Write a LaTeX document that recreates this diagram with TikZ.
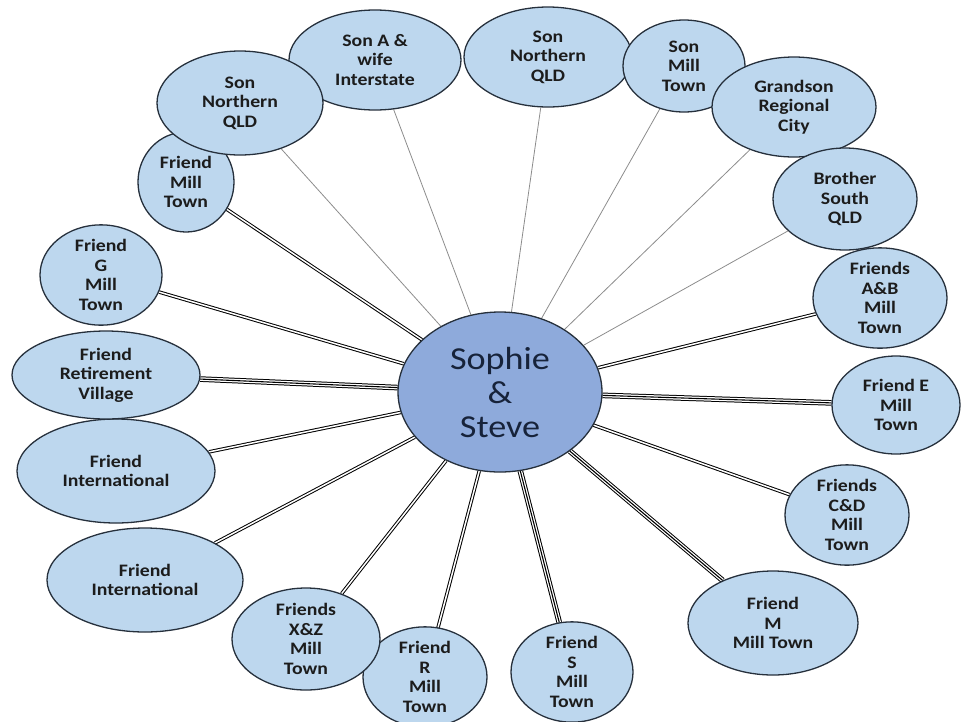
\documentclass[tikz,border=0pt]{standalone}
\usepackage{fontspec}
\setmainfont{Carlito}
\newfontfamily\labelfont[FakeStretch=1.13]{Carlito}
\usetikzlibrary{shapes.geometric,backgrounds}
\definecolor{outerfill}{HTML}{BDD7EE}
\definecolor{hubfill}{HTML}{8EAADB}
\definecolor{rimcol}{HTML}{26303C}
\definecolor{inkcol}{HTML}{1C1C1C}
\definecolor{hubink}{HTML}{17233A}
\definecolor{thincol}{HTML}{8C8C8C}
\tikzset{
  person/.style={ellipse, draw=rimcol, line width=1.3pt, fill=outerfill, inner sep=0pt,
    align=center, text=inkcol, font=\labelfont\fontsize{17.5}{19.5}\selectfont\bfseries},
  hub/.style={ellipse, draw=rimcol, line width=1.3pt, fill=hubfill, inner sep=0pt,
    align=center, text=hubink, font=\labelfont\fontsize{32}{34}\selectfont},
  kin/.style={draw=thincol, line width=0.8pt},
  pairline/.style={draw=black, line width=1pt, double=white, double distance=1.5pt},
  tripleouter/.style={draw=black, line width=1pt, double=white, double distance=3.6pt},
  triplemid/.style={draw=black, line width=1.1pt},
}
\begin{document}
\begin{tikzpicture}[x=1pt,y=-1pt]
\useasboundingbox (0,0) rectangle (961,721);

% outer ring of people
\node[person, minimum width=96pt, minimum height=100pt] (fMT) at (186,182) {Friend\\Mill\\Town};
\node[person, minimum width=172pt, minimum height=100pt] (sonA) at (375,60) {Son A \&\\wife\\Interstate};
\node[person, minimum width=166pt, minimum height=104pt] (sonNL) at (240,103) {Son\\Northern\\QLD};
\node[person, minimum width=168pt, minimum height=100pt] (sonNR) at (548,57) {Son\\Northern\\QLD};
\node[person, minimum width=122pt, minimum height=92pt] (sonMT) at (684,66) {Son\\Mill\\Town};
\node[person, minimum width=164pt, minimum height=100pt] (grand) at (794,107) {Grandson\\Regional\\City};
\node[person, minimum width=144pt, minimum height=102pt] (bro) at (845,199) {Brother\\South\\QLD};
\node[person, minimum width=134pt, minimum height=96pt] (fAB) at (880,298) {Friends\\A\&B\\Mill\\Town};
\node[person, minimum width=128pt, minimum height=98pt] (fE) at (896,405) {Friend E\\Mill\\Town};
\node[person, minimum width=124pt, minimum height=100pt] (fCD) at (847,515) {Friends\\C\&D\\Mill\\Town};
\node[person, minimum width=170pt, minimum height=104pt] (fM) at (773,623) {Friend\\M\\Mill Town};
\node[person, minimum width=122pt, minimum height=96pt] (fS) at (572,672) {Friend\\S\\Mill\\Town};
\node[person, minimum width=124pt, minimum height=94pt] (fR) at (425,677) {Friend\\R\\Mill\\Town};
\node[person, minimum width=148pt, minimum height=102pt] (fXZ) at (306,639) {Friends\\X\&Z\\Mill\\Town};
\node[person, minimum width=196pt, minimum height=104pt] (fIntB) at (145,580) {Friend\\International};
\node[person, minimum width=198pt, minimum height=104pt] (fIntA) at (116,471) {Friend\\International};
\node[person, minimum width=188pt, minimum height=88pt] (fRV) at (106,375) {Friend\\Retirement\\Village};
\node[person, minimum width=122pt, minimum height=100pt] (fG) at (101,275) {Friend\\G\\Mill\\Town};

% the couple in the middle
\node[hub, minimum width=204pt, minimum height=160pt] (hub) at (500,392) {Sophie\\\&\\Steve};

\begin{pgfonlayer}{background}
  % family: thin grey ties
  \foreach \p in {sonNL,sonA,sonNR,sonMT,grand,bro}
    \draw[kin] (\p) -- (hub);
  % friends: double ties
  \foreach \p in {fMT,fG,fIntA,fIntB,fXZ,fR,fAB,fCD}
    \draw[pairline] (\p) -- (hub);
  % closest friends: triple ties
  \foreach \p in {fRV,fE,fS,fM} {
    \draw[tripleouter] (\p) -- (hub);
    \draw[triplemid] (\p) -- (hub);
  }
\end{pgfonlayer}
\end{tikzpicture}
\end{document}
